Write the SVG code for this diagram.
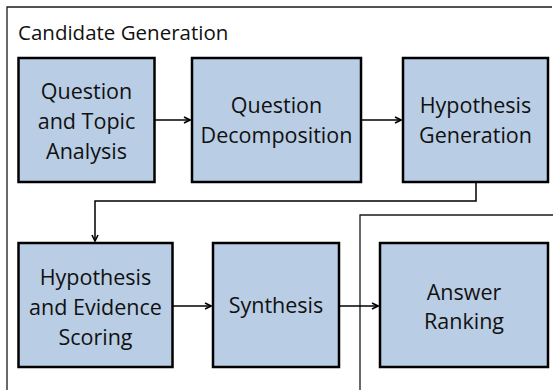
<svg xmlns="http://www.w3.org/2000/svg" width="553" height="390" viewBox="0 0 553 390">
<style>
.box{fill:#B9CDE5;stroke:#000;stroke-width:2.5}
.t{font-family:"Open Sans","Noto Sans",sans-serif;font-size:21.5px;fill:#111;text-anchor:middle}
.title{font-family:"Open Sans","Noto Sans",sans-serif;font-size:20.5px;fill:#111}
.frame{fill:none;stroke:#1a1a1a;stroke-width:1.3}
.conn{fill:none;stroke:#000;stroke-width:1.5}
</style>
<defs>
<marker id="arr" viewBox="0 0 8 8" refX="7" refY="4" markerWidth="8" markerHeight="8" markerUnits="userSpaceOnUse" orient="auto">
<path d="M1,1 L7,4 L1,7" fill="none" stroke="#000" stroke-width="1.6"/>
</marker>
</defs>
<g id="frames">
<path class="frame" d="M7,390 V7 H552"/>
<path class="frame" d="M360,390 V215 H553"/>
<text class="title" x="18" y="40">Candidate Generation</text>
</g>
<g id="connectors">
<line class="conn" x1="155" y1="120" x2="190" y2="120" marker-end="url(#arr)"/>
<line class="conn" x1="362" y1="120" x2="401" y2="120" marker-end="url(#arr)"/>
<path class="conn" d="M476,183 V201 H95 V241" marker-end="url(#arr)"/>
<line class="conn" x1="173" y1="306" x2="211" y2="306" marker-end="url(#arr)"/>
<line class="conn" x1="340" y1="306" x2="378" y2="306" marker-end="url(#arr)"/>
</g>
<g id="n1">
<rect class="box" x="18.5" y="58" width="136" height="124"/>
<text class="t"><tspan x="86.5" y="99">Question</tspan><tspan x="86.5" y="129">and Topic</tspan><tspan x="86.5" y="159">Analysis</tspan></text>
</g>
<g id="n2">
<rect class="box" x="192" y="58" width="169" height="124"/>
<text class="t"><tspan x="276.5" y="113">Question</tspan><tspan x="276.5" y="143">Decomposition</tspan></text>
</g>
<g id="n3">
<rect class="box" x="403" y="58" width="145" height="124"/>
<text class="t"><tspan x="475.5" y="113">Hypothesis</tspan><tspan x="475.5" y="143">Generation</tspan></text>
</g>
<g id="n4">
<rect class="box" x="18.5" y="243" width="154" height="124"/>
<text class="t"><tspan x="95.5" y="285">Hypothesis</tspan><tspan x="95.5" y="315">and Evidence</tspan><tspan x="95.5" y="345">Scoring</tspan></text>
</g>
<g id="n5">
<rect class="box" x="213" y="243" width="126" height="124"/>
<text class="t" x="276" y="313">Synthesis</text>
</g>
<g id="n6">
<rect class="box" x="380" y="243" width="168" height="124"/>
<text class="t"><tspan x="464" y="300">Answer</tspan><tspan x="464" y="329">Ranking</tspan></text>
</g>
</svg>
